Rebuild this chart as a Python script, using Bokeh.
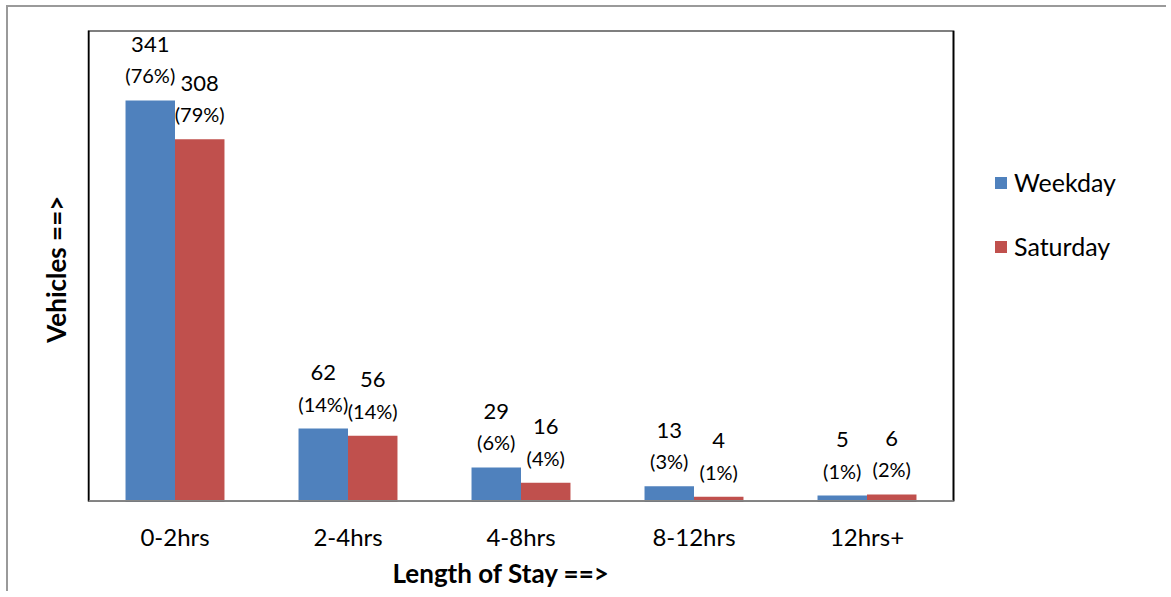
from bokeh.plotting import figure
from bokeh.models import Range1d, FixedTicker, Legend, LegendItem, ColumnDataSource, Title, BoxAnnotation
from bokeh.core.properties import value
from bokeh.embed import file_html
from bokeh.resources import INLINE

categories = ["0-2hrs", "2-4hrs", "4-8hrs", "8-12hrs", "12hrs+"]
weekday = [341, 62, 29, 13, 5]
saturday = [308, 56, 16, 4, 6]
weekday_pct = [76, 14, 6, 3, 1]
saturday_pct = [79, 14, 4, 1, 2]

FONT = "Lato"
BLUE = "#4F81BD"
RED = "#C0504D"
BAR_W = 0.286
Y_MAX = 400.5

idx = list(range(len(categories)))
x_lo = -0.5
x_hi = len(categories) - 0.5
# frame extends right of the plot area to hold the legend (1062 px vs 865 px plot area)
x_end = x_lo + (x_hi - x_lo) * 1062 / 865

p = figure(width=1160, height=586, output_backend="svg", toolbar_location=None,
           x_range=Range1d(x_lo, x_end), y_range=Range1d(0, Y_MAX))
p.margin = (5, 0, 0, 6)
p.min_border_left = 80
p.min_border_top = 23
p.min_border_right = 18
p.min_border_bottom = 92
p.styles = {"border-left": "2px solid #9a9a9a", "border-top": "2px solid #9a9a9a"}

p.grid.visible = False
p.outline_line_color = None

# plot-area box
p.add_layout(BoxAnnotation(left=x_lo, right=x_hi, bottom=0, top=Y_MAX, fill_alpha=0,
                           line_color="black", line_alpha=1, line_width=2))

wk_src = ColumnDataSource(dict(x=[i - BAR_W / 2 for i in idx], top=weekday,
                               n=[str(v) for v in weekday],
                               pct=[f"({v}%)" for v in weekday_pct]))
sa_src = ColumnDataSource(dict(x=[i + BAR_W / 2 for i in idx], top=saturday,
                               n=[str(v) for v in saturday],
                               pct=[f"({v}%)" for v in saturday_pct]))

r1 = p.vbar(x="x", top="top", width=BAR_W, source=wk_src, fill_color=BLUE, line_color=None)
r2 = p.vbar(x="x", top="top", width=BAR_W, source=sa_src, fill_color=RED, line_color=None)

# gray category axis line
p.add_layout(BoxAnnotation(left=x_lo, right=x_hi, bottom=0, top=0, fill_alpha=0,
                           line_color="#868686", line_alpha=1, line_width=3))

for src in (wk_src, sa_src):
    p.text(x="x", y="top", text="n", source=src, text_align="center", text_baseline="middle",
           y_offset=-56, text_font=value(FONT), text_font_size="22px", text_color="black")
    p.text(x="x", y="top", text="pct", source=src, text_align="center", text_baseline="middle",
           y_offset=-25, text_font=value(FONT), text_font_size="20px", text_color="black")

# x axis
xa = p.xaxis[0]
xa.ticker = FixedTicker(ticks=idx)
xa.major_label_overrides = {i: c for i, c in zip(idx, categories)}
xa.major_tick_line_color = None
xa.minor_tick_line_color = None
xa.axis_line_color = None
xa.major_label_standoff = 14
xa.major_label_text_font = FONT
xa.major_label_text_font_size = "24px"
xa.major_label_text_color = "black"

# y axis
ya = p.yaxis[0]
ya.ticker = FixedTicker(ticks=[])
ya.major_tick_line_color = None
ya.minor_tick_line_color = None
ya.axis_line_color = "black"
ya.axis_line_width = 1.5
ya.axis_label = "Vehicles  ==>"
ya.axis_label_text_font = FONT
ya.axis_label_text_font_style = "bold"
ya.axis_label_text_font_size = "26px"
ya.axis_label_text_color = "black"
ya.axis_label_standoff = 17

xtitle = Title(text="Length of Stay  ==>", align="left", offset=304, standoff=3,
               text_font=FONT, text_font_style="bold", text_font_size="26px", text_color="black")
p.add_layout(xtitle, "below")

legend = Legend(items=[LegendItem(label="Weekday", renderers=[r1]),
                       LegendItem(label="Saturday", renderers=[r2])],
                location=(905, 240), orientation="vertical",
                background_fill_alpha=0, border_line_color=None,
                glyph_width=15, glyph_height=15, label_standoff=6, spacing=34,
                label_height=24, padding=0, margin=0,
                label_text_font=FONT, label_text_font_size="25px", label_text_color="black")
p.add_layout(legend)

open("out.html", "w").write(file_html(p, INLINE))
